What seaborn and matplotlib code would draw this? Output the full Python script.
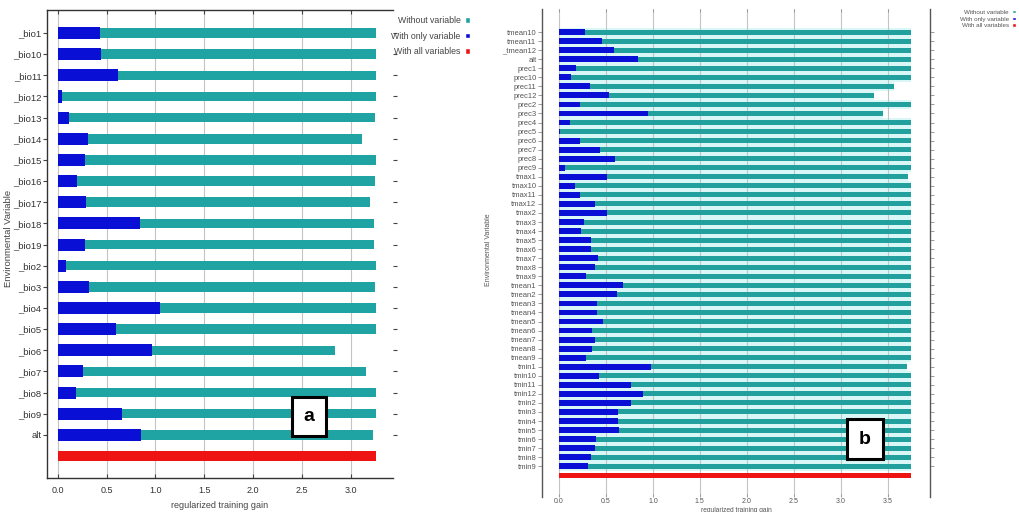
import numpy as np
import pandas as pd
import matplotlib
matplotlib.use("Agg")
import matplotlib.pyplot as plt
import seaborn as sns
from matplotlib.patches import Patch, Rectangle

# ---------------- data: panel a ----------------
vars_a = ["_bio1", "_bio10", "_bio11", "_bio12", "_bio13", "_bio14", "_bio15",
          "_bio16", "_bio17", "_bio18", "_bio19", "_bio2", "_bio3", "_bio4",
          "_bio5", "_bio6", "_bio7", "_bio8", "_bio9", "alt"]
without_a = [3.26, 3.26, 3.26, 3.26, 3.25, 3.11, 3.26, 3.25, 3.19, 3.24, 3.24,
             3.26, 3.25, 3.26, 3.26, 2.84, 3.15, 3.26, 3.26, 3.23]
only_a = [0.43, 0.44, 0.62, 0.04, 0.12, 0.31, 0.28, 0.20, 0.29, 0.84, 0.28,
          0.085, 0.32, 1.05, 0.60, 0.96, 0.26, 0.19, 0.66, 0.85]
full_a = 3.26
ticks_a = [0.0, 0.5, 1.0, 1.5, 2.0, 2.5, 3.0]

# ---------------- data: panel b ----------------
vars_b = ["tmean10", "tmean11", "_tmean12", "alt", "prec1", "prec10", "prec11",
          "prec12", "prec2", "prec3", "prec4", "prec5", "prec6", "prec7", "prec8",
          "prec9", "tmax1", "tmax10", "tmax11", "tmax12", "tmax2", "tmax3", "tmax4",
          "tmax5", "tmax6", "tmax7", "tmax8", "tmax9", "tmean1", "tmean2", "tmean3",
          "tmean4", "tmean5", "tmean6", "tmean7", "tmean8", "tmean9", "tmin1",
          "tmin10", "tmin11", "tmin12", "tmin2", "tmin3", "tmin4", "tmin5", "tmin6",
          "tmin7", "tmin8", "tmin9"]
without_b = [3.75, 3.75, 3.75, 3.75, 3.75, 3.75, 3.57, 3.35, 3.75, 3.45,
             3.75, 3.75, 3.75, 3.75, 3.75, 3.75, 3.72, 3.75, 3.75, 3.75,
             3.75, 3.75, 3.75, 3.75, 3.75, 3.75, 3.75, 3.75, 3.75, 3.75,
             3.75, 3.75, 3.75, 3.75, 3.75, 3.75, 3.75, 3.71, 3.75, 3.75,
             3.75, 3.75, 3.75, 3.75, 3.75, 3.75, 3.75, 3.75, 3.75]
only_b = [0.28, 0.46, 0.59, 0.84, 0.18, 0.13, 0.33, 0.53, 0.22, 0.95,
          0.12, 0.01, 0.22, 0.44, 0.60, 0.06, 0.51, 0.17, 0.22, 0.38,
          0.51, 0.27, 0.23, 0.34, 0.34, 0.42, 0.38, 0.29, 0.68, 0.62,
          0.41, 0.41, 0.47, 0.35, 0.38, 0.35, 0.29, 0.98, 0.43, 0.77,
          0.89, 0.77, 0.63, 0.63, 0.64, 0.39, 0.38, 0.34, 0.31]
full_b = 3.75
ticks_b = [0.0, 0.5, 1.0, 1.5, 2.0, 2.5, 3.0, 3.5]

legend_labels = ["Without variable", "With only variable", "With all variables"]
FULL = "__full__"

TEAL = "#1fa3a3"
TEAL_B = "#22a09e"
BLUE = "#0a0fd6"
RED = "#ee1414"
CYAN = "#d9f7f7"

sns.set_theme(style="white")
plt.rcParams["font.family"] = ["Liberation Sans Narrow", "Liberation Sans", "DejaVu Sans"]

W, H = 1019, 512
fig = plt.figure(figsize=(W / 100, H / 100), dpi=100)
fig.patch.set_facecolor("white")

axa = fig.add_axes([47 / W, 1 - 478 / H, 346 / W, 468 / H])
axb = fig.add_axes([542 / W, 1 - 497 / H, 388 / W, 488 / H])


def draw_panel(ax, names, without, only, full, teal, w_teal, w_blue, w_red, cyan=False):
    order = list(names) + [FULL]
    df = pd.DataFrame({"var": names, "without": without, "only": only})
    dfull = pd.DataFrame({"var": [FULL], "gain": [full]})
    common = dict(orient="h", order=order, saturation=1, errorbar=None,
                  linewidth=0, ax=ax)
    if cyan:
        n0 = len(ax.patches)
        sns.barplot(data=df, x="without", y="var", color=CYAN, width=1.0, **common)
        for p in ax.patches[n0:]:
            p.set_zorder(0.3)
    sns.barplot(data=df, x="without", y="var", color=teal, width=w_teal, **common)
    sns.barplot(data=df, x="only", y="var", color=BLUE, width=w_blue, **common)
    sns.barplot(data=dfull, x="gain", y="var", color=RED, width=w_red, **common)
    ax.set_yticks(range(len(names)))
    ax.set_yticklabels(names)
    ax.set_xlabel("")
    ax.set_ylabel("")
    ax.set_axisbelow(True)
    ax.xaxis.grid(True, color="#c4c4c4", linewidth=0.8)
    ax.yaxis.grid(False)


# ---------------- panel a ----------------
draw_panel(axa, vars_a, without_a, only_a, full_a, TEAL, 0.45, 0.57, 0.47)
axa.set_ylim(21.04, -1.09)
axa.set_xlim(-0.11, 3.43)
axa.set_xticks(ticks_a)
axa.set_xticklabels([f"{t:.1f}" for t in ticks_a])
for s in ["left", "top", "bottom"]:
    axa.spines[s].set_visible(True)
    axa.spines[s].set_color("#333333")
    axa.spines[s].set_linewidth(1.0)
axa.spines["right"].set_visible(False)
axa.tick_params(axis="y", left=True, right=True, direction="out", length=3,
                width=0.8, color="#444444", labelsize=6.8, labelcolor="#333333", pad=1)
axa.tick_params(axis="x", bottom=True, top=True, direction="in", length=3,
                width=0.8, color="#444444", labelsize=6.5, labelcolor="#333333", pad=6)
fig.text(9 / W, 1 - 238 / H, "Environmental Variable", rotation=90,
         ha="center", va="center", fontsize=6.8, color="#444444")
fig.text(220 / W, 1 - 505 / H, "regularized training gain", ha="center",
         va="center", fontsize=6.5, color="#444444")

handles_a = [Patch(facecolor=TEAL), Patch(facecolor=BLUE), Patch(facecolor=RED)]
fig.legend(handles_a, legend_labels, markerfirst=False, frameon=False,
           fontsize=6.3, handlelength=0.6, handleheight=0.6, handletextpad=0.5,
           labelspacing=0.75, loc="upper right", bbox_to_anchor=(470 / W, 1 - 16 / H),
           bbox_transform=fig.transFigure, borderaxespad=0, borderpad=0,
           labelcolor="#444444")

# ---------------- panel b ----------------
draw_panel(axb, vars_b, without_b, only_b, full_b, TEAL_B, 0.55, 0.64, 0.55, cyan=True)
axb.set_ylim(51.4, -2.55)
axb.set_xlim(-0.18, 3.95)
axb.set_xticks(ticks_b)
axb.set_xticklabels([f"{t:.1f}" for t in ticks_b])
for s in ["left", "right"]:
    axb.spines[s].set_visible(True)
    axb.spines[s].set_color("#555555")
    axb.spines[s].set_linewidth(1.0)
for s in ["top", "bottom"]:
    axb.spines[s].set_visible(False)
axb.tick_params(axis="y", left=True, right=True, direction="out", length=3,
                width=0.5, color="#777777", labelsize=5.5, labelcolor="#555555", pad=1)
axb.tick_params(axis="x", bottom=True, top=True, direction="in", length=2,
                width=0.5, color="#888888", labelsize=5, labelcolor="#555555", pad=1)
fig.text(489 / W, 1 - 250 / H, "Environmental Variable", rotation=90,
         ha="center", va="center", fontsize=5, color="#555555")
fig.text(736 / W, 1 - 510 / H, "regularized training gain", ha="center",
         va="center", fontsize=4.8, color="#555555")

handles_b = [Patch(facecolor=TEAL_B), Patch(facecolor=BLUE), Patch(facecolor=RED)]
fig.legend(handles_b, legend_labels, markerfirst=False, frameon=False,
           fontsize=4.5, handlelength=0.6, handleheight=0.45, handletextpad=0.5,
           labelspacing=0.25, loc="upper right", bbox_to_anchor=(1016 / W, 1 - 10 / H),
           bbox_transform=fig.transFigure, borderaxespad=0, borderpad=0,
           labelcolor="#555555")

# ---------------- panel letter boxes ----------------
for (x0, y0, x1, y1, letter) in [(292, 397, 326, 436, "a"), (847, 419, 883, 459, "b")]:
    fig.add_artist(Rectangle((x0 / W, 1 - y1 / H), (x1 - x0) / W, (y1 - y0) / H,
                             transform=fig.transFigure, facecolor="white",
                             edgecolor="black", linewidth=2.2, zorder=5))
    fig.text((x0 + x1) / 2 / W, 1 - (y0 + y1) / 2 / H, letter, ha="center",
             va="center", fontsize=14, fontweight="bold", color="black",
             family=["Liberation Sans", "DejaVu Sans"], zorder=6)

fig.savefig("out.png", dpi=100, facecolor="white")
